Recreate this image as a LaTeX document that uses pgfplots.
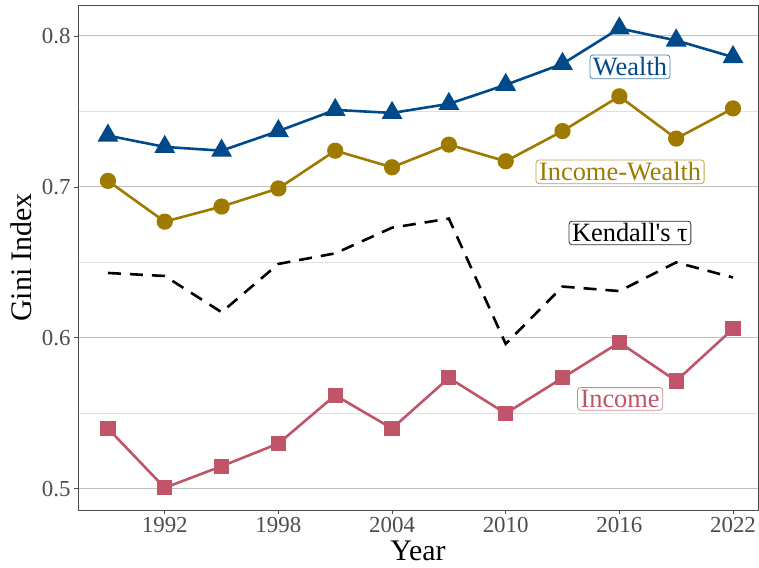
\documentclass[border=0pt]{standalone}
\usepackage{pgfplots}
\pgfplotsset{compat=1.18}
\usepackage{fontspec}
\setmainfont{Liberation Serif}
\definecolor{wealth}{HTML}{004A8B}
\definecolor{incwealth}{HTML}{9E7A00}
\definecolor{income}{HTML}{C05468}
\definecolor{tickgray}{HTML}{4D4D4D}
\begin{document}
\begin{tikzpicture}
\begin{axis}[
  scale only axis, width=680bp, height=505bp,
  xmin=1987.42, xmax=2023.32, ymin=0.486, ymax=0.8205,
  xtick={1992,1998,2004,2010,2016,2022},
  ytick={0.5,0.6,0.7,0.8},
  minor ytick={0.55,0.65,0.75},
  ymajorgrids, yminorgrids,
  major grid style={line width=1.1bp, color=black!25},
  minor grid style={line width=0.8bp, color=black!12},
  axis line style={line width=0.8bp, color=black!70},
  tick style={line width=0.8bp, color=black!70},
  major tick length=4bp, minor tick length=0pt,
  tick align=outside,
  xtick pos=bottom, ytick pos=left,
  /pgf/number format/assume math mode=true,
  /pgf/number format/1000 sep={},
  yticklabel style={/pgf/number format/fixed, /pgf/number format/fixed zerofill, /pgf/number format/precision=1, text=tickgray, font=\fontsize{23}{26}\selectfont},
  xticklabel style={text=tickgray, font=\fontsize{23}{26}\selectfont},
  xlabel={Year}, ylabel={Gini Index},
  label style={font=\fontsize{30}{32}\selectfont},
  xlabel style={yshift=-1bp},
  ylabel style={yshift=3bp},
  clip=false,
]
\addplot[color=wealth, line width=2.6bp, mark=triangle*, mark size=9.5bp, mark options={solid}] coordinates {
(1989,0.734) (1992,0.7265) (1995,0.724) (1998,0.737) (2001,0.751) (2004,0.749) (2007,0.755) (2010,0.7676) (2013,0.7815) (2016,0.805) (2019,0.797) (2022,0.786)};
\addplot[color=incwealth, line width=2.6bp, mark=*, mark size=6.8bp] coordinates {
(1989,0.704) (1992,0.677) (1995,0.687) (1998,0.699) (2001,0.724) (2004,0.713) (2007,0.728) (2010,0.717) (2013,0.737) (2016,0.760) (2019,0.732) (2022,0.752)};
\addplot[color=black, line width=2.6bp, dash pattern=on 13bp off 9bp, mark=none] coordinates {
(1989,0.643) (1992,0.641) (1995,0.617) (1998,0.649) (2001,0.656) (2004,0.673) (2007,0.679) (2010,0.596) (2013,0.634) (2016,0.631) (2019,0.650) (2022,0.640)};
\addplot[color=income, line width=2.6bp, mark=square*, mark size=6.3bp] coordinates {
(1989,0.540) (1992,0.5007) (1995,0.515) (1998,0.530) (2001,0.562) (2004,0.540) (2007,0.5735) (2010,0.550) (2013,0.5735) (2016,0.597) (2019,0.5715) (2022,0.606)};
\tikzset{lab/.style={rounded corners=3bp, fill=white, inner xsep=3bp, inner ysep=2.5bp, line width=0.8bp, font=\fontsize{26.5}{28}\selectfont}}
\node[lab, draw=wealth!70, text=wealth] at (axis cs:2016.56,0.7795) {Wealth};
\node[lab, draw=incwealth!70, text=incwealth] at (axis cs:2016.04,0.710) {Income-Wealth};
\node[lab, draw=black!80, text=black] at (axis cs:2016.56,0.6695) {Kendall\textquotesingle s τ};
\node[lab, draw=income!70, text=income] at (axis cs:2016.04,0.5596) {Income};
\end{axis}
\pgfresetboundingbox
\path (current axis.south west) ++(-78bp,-58bp) coordinate (bl);
\path (current axis.north east) ++(1bp,5bp) coordinate (tr);
\path[use as bounding box] (bl) rectangle (tr);
\end{tikzpicture}
\end{document}
